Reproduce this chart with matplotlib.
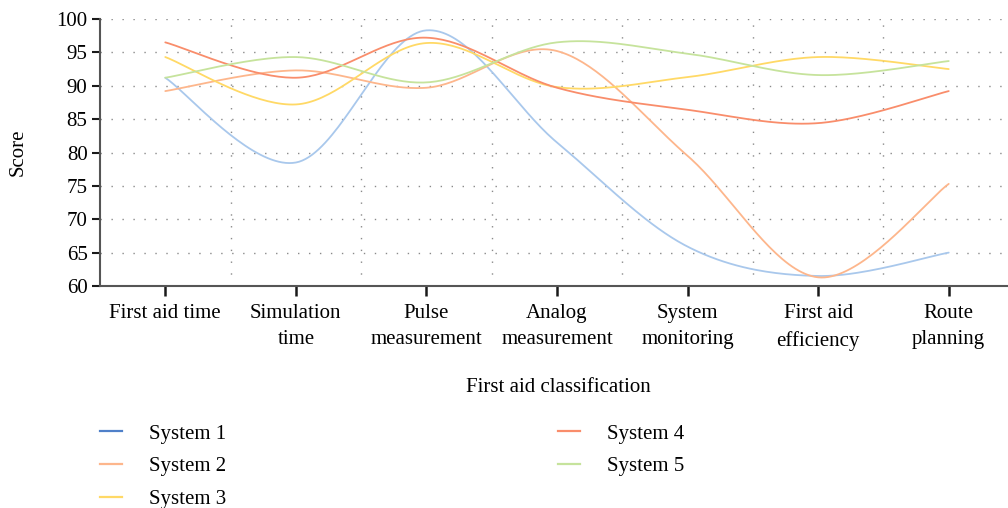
import numpy as np
import matplotlib
matplotlib.use("Agg")
import matplotlib.pyplot as plt
from matplotlib.lines import Line2D
from matplotlib.ticker import FixedLocator

categories = ["First aid time", "Simulation\ntime", "Pulse\nmeasurement", "Analog\nmeasurement",
              "System\nmonitoring", "First aid\nefficiency", "Route\nplanning"]
series_names = ["System 1", "System 2", "System 3", "System 4", "System 5"]
system1 = [91.2, 78.5, 98.3, 81.5, 65.9, 61.5, 65.0]
system2 = [89.2, 92.3, 89.7, 95.2, 79.5, 61.3, 75.3]
system3 = [94.3, 87.2, 96.4, 89.8, 91.3, 94.3, 92.5]
system4 = [96.5, 91.2, 97.2, 89.7, 86.4, 84.4, 89.2]
system5 = [91.2, 94.3, 90.5, 96.5, 94.8, 91.6, 93.7]
y_ticks = [60, 65, 70, 75, 80, 85, 90, 95, 100]

line_colors = ["#A9C8EC", "#FDB68C", "#FFD966", "#F98D6B", "#C6E39C"]
legend_colors = ["#4F80C9", "#FDB68C", "#FFD966", "#F98D6B", "#C6E39C"]

plt.rcParams['font.family'] = ['Liberation Serif', 'DejaVu Serif']
FS = 15


def catmull_rom(xs, ys, n=40):
    xs = np.asarray(xs, float)
    ys = np.asarray(ys, float)
    P = np.column_stack([xs, ys])
    P = np.vstack([P[0], P, P[-1]])
    out = []
    t = np.linspace(0, 1, n, endpoint=False)
    for i in range(1, len(P) - 2):
        p0, p1, p2, p3 = P[i - 1], P[i], P[i + 1], P[i + 2]
        m1 = (p2 - p0) / 2
        m2 = (p3 - p1) / 2
        h00 = 2 * t**3 - 3 * t**2 + 1
        h10 = t**3 - 2 * t**2 + t
        h01 = -2 * t**3 + 3 * t**2
        h11 = t**3 - t**2
        seg = (h00[:, None] * p1 + h10[:, None] * m1 + h01[:, None] * p2 + h11[:, None] * m2)
        out.append(seg)
    out.append(P[-2][None, :])
    out = np.vstack(out)
    return out[:, 0], out[:, 1]


W, H = 1008, 508
fig = plt.figure(figsize=(W / 100, H / 100), dpi=100)
ax = fig.add_axes([100 / W, (H - 286) / H, 914 / W, 267 / H])

x = np.arange(len(categories))
for vals, c in zip([system1, system2, system3, system4, system5], line_colors):
    sx, sy = catmull_rom(x, vals)
    ax.plot(sx, sy, color=c, lw=1.3, solid_capstyle='round', zorder=3)

ax.set_xlim(-0.5, len(categories) - 0.5)
ax.set_ylim(60, 100)
ax.set_yticks(y_ticks)
ax.set_xticks(x)
ax.set_xticklabels(categories, fontsize=FS, linespacing=1.52)
ax.xaxis.set_minor_locator(FixedLocator(np.arange(0.5, len(categories) - 0.5, 1)))
ax.tick_params(axis='y', labelsize=FS, length=6, width=1.5, color='#1a1a1a', pad=3)
ax.tick_params(axis='x', which='major', length=7, width=1.8, color='#1a1a1a', pad=6)
ax.tick_params(axis='x', which='minor', length=0)

ax.grid(axis='y', which='major', linestyle=(0, (1, 6.9)), color='#8a8a8a', lw=1.0)
ax.grid(axis='x', which='minor', linestyle=(0, (1, 7.5)), color='#8a8a8a', lw=1.0)
ax.grid(axis='x', which='major', visible=False)

for s in ['top', 'right']:
    ax.spines[s].set_visible(False)
for s in ['left', 'bottom']:
    ax.spines[s].set_color('#555555')
    ax.spines[s].set_linewidth(1.5)

fig.text(18 / W, 1 - 152.5 / H, "Score", fontsize=FS, rotation=90, ha='center', va='center')
fig.text(558 / W, 1 - 388 / H, "First aid classification", fontsize=FS, ha='center', va='center')

handles = [Line2D([], [], color=c, lw=1.6) for c in legend_colors]
fig.legend(handles, series_names, loc='upper left', bbox_to_anchor=(100 / W, 1 - 424 / H),
           ncol=2, frameon=False, fontsize=FS, handlelength=1.06, handletextpad=1.3,
           columnspacing=15.9, labelspacing=0.64, borderaxespad=0, borderpad=0)

fig.savefig("out.png", dpi=100)
